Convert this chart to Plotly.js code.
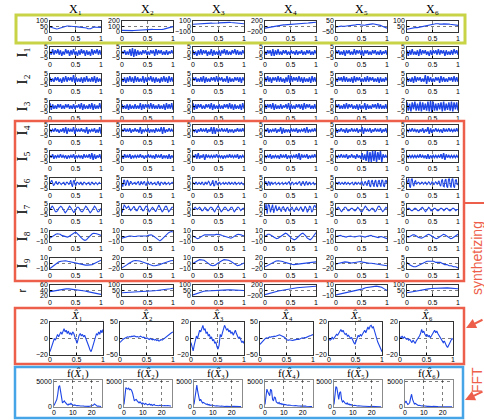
<!DOCTYPE html>
<html><head><meta charset="utf-8">
<script src="https://cdn.plot.ly/plotly-3.0.1.min.js"></script>
<style>html,body{margin:0;padding:0;background:#fff}#chart{width:484px;height:420px}</style>
</head><body><div id="chart"></div>
<script>
// ---------------- labels ----------------
const colTitles = ['X₁','X₂','X₃','X₄','X₅','X₆'];
const rowLabels = ['I₁','I₂','I₃','I₄','I₅','I₆','I₇','I₈','I₉','r'];
const xhatTitles = ['<i>X̂</i>₁','<i>X̂</i>₂','<i>X̂</i>₃','<i>X̂</i>₄','<i>X̂</i>₅','<i>X̂</i>₆'];
const fftTitles = ['f(<i>X̂</i>₁)','f(<i>X̂</i>₂)','f(<i>X̂</i>₃)','f(<i>X̂</i>₄)','f(<i>X̂</i>₅)','f(<i>X̂</i>₆)'];
const tTicks = [0, 0.5, 1];
const tTickText = ['0', '0.5', '1'];
const fTicks = [0, 10, 20];
const fYTicks = [0, 5000];
const fStep = 0.5;

// ---------------- data: top row X ----------------
const rowX = [
 [45,40,35,32,28,27,30,34,38,42,46,50,53,55,54,52,50,52,51,50,48,47,46,45,44,45,42,40,36,30,27,30,36,42,45,44,42,41,40,42],
 [30,28,25,22,20,20,21,22,25,28,30,33,35,38,40,41,42,40,42,45,48,50,50,48,45,44,42,40,40,42,45,48,52,58,62,68,75,82,90,98],
 [40,42,45,48,50,52,55,58,60,60,58,57,58,60,62,60,58,62,60,64,66,68,70,72,75,78,80,78,75,72,70,70,68,65,62,60,58,55,52,50],
 [-60,-50,-40,-30,-20,-10,0,10,20,30,40,45,50,55,58,60,62,65,70,72,75,78,80,85,88,92,95,100,105,110,115,118,120,125,130,135,140,145,150,155],
 [-5,-2,0,2,3,2,0,2,4,5,5,6,8,10,12,15,18,20,18,15,12,10,12,15,18,20,22,25,24,22,20,22,18,15,10,5,0,-5,-10,-15],
 [25,28,30,32,35,38,40,42,40,42,45,48,50,52,55,58,60,62,65,68,70,72,75,78,75,72,70,72,74,75,76,74,72,70,68,66,65,63,62,60]
];
const ticksX = [[0,50,100],[0,100,200],[-100,0,100],[-200,0,200],[-50,0,50],[0,50,100]];

// ---------------- I1..I5 (noise-like) ----------------
const rowI1 = [
 [1,-2,3,-2,2,-1,3,-2,2,-3,1,-2,3,-1,2,-3,2,-2,3,-2,1,-3,2,-2,3,-1,2,-3,2,-2,1,-3,3,-2,2,-1,3,-2,2,-2],
 [1,-1,2,-2,1,-2,3,-3,4,-4,3,-3,2,-2,1,-2,2,-1,2,-2,1,-2,2,-1,2,-3,3,-2,2,-1,2,-2,1,-2,2,-2,1,-1,2,-1],
 [2,-2,1,-3,2,-2,3,-2,2,-1,2,-3,1,-2,3,-3,2,-2,1,-2,2,-3,2,-1,3,-2,2,-2,1,-2,2,-1,3,-2,2,-2,1,-2,2,-1],
 [1,-2,2,-1,2,-3,3,-3,2,-2,3,-2,1,-2,2,-1,2,-2,1,-2,2,-1,1,-2,2,-2,1,-1,2,-2,1,-2,2,-1,2,-2,1,-2,2,-1],
 [2,-1,2,-2,1,-2,2,-3,2,-1,2,-2,1,-2,3,-2,2,-1,2,-2,2,-3,2,-1,2,-2,1,-2,2,-1,2,-2,1,-2,2,-2,1,-1,2,-2],
 [2,-3,2,-2,3,-2,1,-2,2,-3,3,-2,2,-1,2,-2,1,-3,2,-2,2,-1,2,-2,3,-2,2,-1,2,-3,2,-2,1,-2,2,-2,3,-1,2,-2]
];
const rowI2 = [
 [2,-2,1,-2,2,-1,2,-2,1,-3,2,-2,3,-2,2,-1,2,-2,4,-3,2,-2,1,-2,2,-3,2,-2,3,-2,1,-2,2,-2,3,-3,2,-2,1,-2],
 [1,-2,2,-3,2,-2,3,-2,2,-3,3,-2,2,-2,1,-2,3,-3,2,-2,2,-1,3,-2,2,-3,2,-2,1,-3,2,-2,3,-2,2,-3,3,-2,2,-2],
 [2,-1,2,-2,1,-2,2,-2,3,-3,2,-2,1,-2,2,-1,2,-2,3,-2,2,-1,2,-2,1,-2,3,-3,2,-2,1,-2,2,-1,2,-2,2,-3,2,-1],
 [2,-2,3,-2,2,-3,2,-1,2,-2,3,-2,2,-2,1,-3,2,-2,4,-3,3,-2,2,-1,2,-2,3,-2,2,-3,2,-2,1,-2,2,-3,3,-2,2,-2],
 [1,-2,2,-1,2,-2,3,-2,2,-2,1,-2,2,-3,3,-2,2,-1,2,-2,1,-2,2,-2,3,-2,2,-1,2,-2,1,-2,2,-3,2,-2,1,-2,2,-1],
 [2,-2,1,-2,2,-3,3,-2,2,-1,2,-2,1,-2,4,-4,3,-2,2,-2,1,-2,2,-1,2,-3,3,-2,2,-2,1,-2,2,-1,2,-2,3,-2,2,-2]
];
const rowI3 = [
 [3,-3,2,-2,1,-2,2,-1,2,-2,1,-2,2,-1,2,-2,1,-2,2,-2,1,-1,2,-2,3,-3,2,-2,1,-2,2,-2,3,-3,2,-2,1,-2,3,-2],
 [2,-2,1,-2,2,-3,2,-2,1,-2,2,-2,1,-2,3,-3,2,-2,2,-1,2,-2,3,-2,2,-2,1,-2,2,-2,1,-2,2,-3,3,-2,2,-2,3,-3],
 [3,-3,2,-2,2,-1,2,-2,1,-2,2,-1,2,-2,3,-3,2,-2,1,-2,2,-2,1,-2,2,-1,2,-2,3,-2,2,-3,2,-2,1,-2,2,-3,3,-2],
 [2,-2,2,-1,2,-2,3,-3,2,-2,1,-2,2,-2,1,-1,2,-2,3,-3,2,-2,1,-2,2,-1,2,-2,2,-3,3,-2,2,-1,2,-2,1,-2,2,-2],
 [2,-1,2,-2,1,-2,2,-2,3,-2,2,-1,2,-2,1,-2,2,-3,2,-2,1,-2,3,-3,2,-2,1,-2,2,-1,2,-2,3,-2,2,-2,1,-2,2,-2],
 [1.5,-1.5,1,-1.8,1.5,-1,1.8,-1.5,1,-1.5,1.8,-1.8,1.5,-1.2,1,-1.5,1.8,-1.8,2,-2,1.8,-1.5,1,-1.5,1.2,-1,1.5,-1.8,1.8,-1.5,1,-1.2,1.5,-1.5,1.8,-1.8,1.5,-1,1.5,-1.5]
];
const rowI4 = [
 [1,-1,1,-1,2,-1,1,-2,1,-1,2,-2,3,-3,2,-1,1,-1,3,-3,2,-1,1,-1,2,-1,1,-2,3,-3,1,-1,1,-1,2,-2,1,-2,3,-3],
 [1,-1,2,-1,1,-1,2,-2,1,-1,2,-1,1,-2,3,-3,1,-1,1,-1,2,-2,1,-1,1,-2,2,-1,1,-1,3,-3,3,-2,1,-1,2,-1,1,-1],
 [1,-1,1,-2,1,-1,2,-1,1,-1,2,-2,1,-1,3,-3,3,-3,2,-1,1,-1,2,-1,1,-1,2,-2,1,-1,1,-2,1,-1,2,-1,1,-1,2,-1],
 [1,-1,2,-2,1,-1,1,-1,2,-2,1,-1,3,-3,2,-2,1,-1,1,-2,2,-1,1,-1,2,-2,1,-1,1,-1,2,-2,3,-2,1,-1,1,-1,2,-1],
 [2,-2,1,-1,2,-1,1,-2,2,-2,1,-1,2,-1,1,-1,2,-2,1,-1,3,-3,2,-1,1,-1,2,-2,1,-1,2,-1,1,-1,2,-2,1,-1,2,-2],
 [1,-1,1,-1,2,-1,1,-1,1,-2,1,-1,2,-2,1,-1,3,-3,2,-2,1,-1,2,-1,1,-1,1,-2,2,-1,1,-1,2,-1,1,-1,1,-1,2,-1]
];
const rowI5 = [
 [1,-1,2,-2,1,-1,1,-1,2,-1,1,-1,1,-2,1,-1,1,-1,2,-2,1,-1,1,-1,1,-2,2,-1,1,-1,2,-2,3,-3,2,-2,1,-1,2,-2],
 [1,-2,2,-1,1,-1,2,-2,1,-1,1,-1,1,-1,2,-1,1,-2,1,-1,2,-1,1,-1,1,-2,2,-1,1,-1,2,-2,1,-1,1,-2,2,-2,1,-1],
 [1,-1,2,-2,3,-2,1,-1,2,-3,2,-1,1,-1,1,-1,1,-1,2,-1,1,-1,1,-2,1,-1,1,-1,2,-1,1,-1,1,-1,2,-2,1,-1,1,-1],
 [1,-1,1,-1,2,-2,1,-1,1,-1,1,-2,2,-1,1,-1,2,-2,1,-1,1,-1,1,-1,2,-2,3,-3,2,-1,1,-1,2,-2,1,-1,1,-1,2,-1],
 [1,-1,1,-1,2,-1,1,-1,2,-2,1,-1,2,-1,1,-2,2,-1,1,-2,3,-3,2,-4,5,-5,4,-5,5,-4,5,-5,4,-3,5,-5,2,-1,1,-1],
 [1,-1,1,-1,1,-1,1,-1,1,-1,2,-1,1,-1,1,-2,2,-2,1,-1,1,-1,1,-1,1,-1,2,-2,3,-3,2,-1,1,-1,1,-1,1,-1,1,-1]
];
// ---------------- I6..I9 (oscillating) ----------------
const rowI6 = [
 [0,2,3,1,-2,-1,1,2,0,-1,1,1,0,-1,0,1,1,-1,-1,1,1,0,-1,1,3,-1,-3,2,3,-1,-2,1,1,0,-1,1,1,-1,-1,1,1,0,-1,0,1,1,-1,-1,1,1,0,-1,0,1,0,-1,0,1,0,0],
 [0,-3,3,3,-2,-1,3,2,-2,0,2,1,-1,0,1,1,-1,0,1,2,-1,-1,2,1,-1,1,2,-1,-2,1,2,0,-1,1,1,-1,0,1,1,-1,-1,1,2,-1,-2,1,1,0,-1,1,1,-1,0,1,1,-1,0,1,1,0],
 [1,0,-1,1,1,-1,0,1,0,-1,1,1,-1,-1,1,1,-1,0,2,1,-2,-1,2,3,-2,-2,2,2,-1,-1,1,1,-1,0,1,1,-1,0,1,0,-1,1,1,-1,0,1,0,-1,1,1,-1,0,1,1,-1,0,1,0,-1,0],
 [0,2,-1,-2,2,1,-2,1,1,-1,0,1,1,-1,0,1,1,-1,0,1,1,-1,0,1,1,-1,0,1,2,-1,-1,1,1,-1,0,1,1,-1,0,1,2,-1,-2,1,2,0,-2,1,2,-1,-1,1,1,-1,0,1,1,-1,0,0],
 [0,1,-1,1,1,-1,0,1,0,-1,1,1,-1,0,1,0,-1,0,1,1,-1,-1,1,1,-1,0,1,0,-1,1,2,-1,-2,1,2,-1,-2,2,3,-2,-3,2,3,-1,-3,2,3,-2,-3,2,3,-1,-3,3,3,-2,-3,2,3,0],
 [0,1.5,1.8,-1,-1.5,1.5,1.8,-0.5,-1,0.8,1,-0.3,0,0.5,0.3,-0.3,0,0.5,0.4,-0.3,0.1,0.5,0.2,-0.4,0,0.6,0.3,-0.5,0,0.6,0.4,-0.5,0,0.6,0.3,-0.4,0.5,1,-0.5,-1,1,1.5,-1,-1.2,1.2,1.6,-1,-1.5,1.5,1.8,-0.8,-1.5,1.5,1.8,-1,-1.5,1.2,1.5,-0.5,0]
];
const rowI7 = [
 [0,2,3,2,0,-2,-2,-1,1,2,3,2,0,-2,-3,-2,0,2,3,2,0,-2,-3,-1,1,2,2,1,-1,-2,-2,0,2,3,2,0,-2,-3,-2,0,2,3,2,0,-2,-2,0,1],
 [-3,2,4,3,1,2,3,1,-1,0,2,3,1,-1,-1,1,3,3,1,-1,-1,1,3,3,0,-2,-1,1,2,1,-1,-2,0,3,4,2,-1,-2,-1,1,3,3,0,-2,-1,1,2,2],
 [0,1,2,1,0,1,2,1,-1,-1,1,2,1,-1,-1,1,2,2,1,-1,-2,0,2,3,2,-1,-2,-1,1,2,2,0,-1,-1,1,2,2,0,-2,-1,1,2,2,0,-1,0,1,1],
 [0,2,-1.5,1.8,1.5,-1,0.5,1.8,-1.2,0.5,1.5,-0.5,0,1,0.3,-0.8,0.8,1,0,-0.8,0.5,0.8,-0.3,-0.6,0.6,0.8,-0.2,-0.8,0.3,0.8,0.2,-0.5,0.3,1,0.2,-0.8,0,1.2,0.5,-1,-0.3,1.2,1,-1,-0.5,1.2,1.5,0.5],
 [0,1,2,1,-1,-2,-1,1,2,2,0,-1,-1,0,1,1,0,-1,-1,1,2,1,-1,-2,-2,0,2,3,2,0,-1,-1,0,1,1,-1,-2,-1,1,3,3,1,-1,-2,-1,1,2,1],
 [0,1,1,0,-1,-1,0,1,1,0,-1,-1,0,1,2,1,-1,-2,-1,1,2,1,-1,-1,0,1,1,0,-1,-1,0,1,1,0,-1,0,1,1,0,-1,-1,0,1,1,0,-1,0,0]
];
const rowI8 = [
 [-3,-1,1,3,4,5,5,4,2,1,0,-1,-1,0,2,4,6,7,7,5,2,-1,-4,-6,-7,-6,-3,0,3,5,6,6,5,4,3,2],
 [-3,-2,-1,0,1,1,1,0,0,0,1,1,1,1,0,0,1,1,2,3,3,2,0,-2,-5,-7,-8,-6,-3,0,3,5,7,8,9,8],
 [1,-1,-3,-4,-3,-1,1,2,3,3,3,2,2,2,3,3,4,4,4,3,2,1,0,-1,-2,-3,-3,-2,0,2,3,4,4,3,2,1],
 [0,2,4,4,3,1,-1,-3,-4,-3,-1,1,3,5,6,5,3,0,-3,-5,-6,-5,-2,1,3,5,6,4,1,-3,-5,-6,-4,0,4,7],
 [0,1,2,2,1,0,-1,-1,0,1,1,0,-1,-1,0,1,1,1,0,-1,-1,0,1,2,2,1,0,-1,-2,-2,-1,0,-1,-2,-3,-4],
 [0,-1,0,2,3,3,2,0,-2,-3,-3,-2,0,2,3,4,3,1,-1,-3,-4,-3,-1,1,3,4,3,1,-1,-3,-4,-3,-1,1,3,4]
];
const rowI9 = [
 [-9,-6,-2,1,3,4,5,5,4,3,3,2,1,0,-1,-2,-3,-3,-3,-2,0,2,4,6],
 [-16,-12,-6,0,5,9,11,11,9,6,3,0,-3,-6,-8,-8,-7,-4,-1,2,5,8,10,11],
 [0,3,5,7,7,6,3,0,-3,-4,-3,0,3,5,7,7,6,4,1,-2,-4,-3,-1,1],
 [-12,-8,-3,2,6,9,10,9,7,4,1,-1,-3,-4,-3,-2,0,2,3,4,5,5,6,6],
 [-2,0,3,5,6,5,3,2,3,5,7,7,5,3,2,1,1,0,-1,-2,-3,-4,-6,-8],
 [1,-1,-2,-3,-3,-2,-1,0,1,2,2,2,2,1,1,1,0,-1,-1,-2,-2,-3,-3,-4]
];
const rowR = [
 [36,38,40,42,44,45,46,46,45,44,42,41,40,38,36,34,32,30,28,26],
 [30,31,32,33,34,35,36,38,40,42,44,46,48,50,52,55,58,62,66,70],
 [10,20,30,38,43,46,48,50,52,53,54,55,56,56,56,55,54,53,52,50],
 [-150,-120,-90,-60,-40,-20,0,20,40,60,75,90,100,110,120,130,140,145,150,155],
 [-8,-7,-6,-5,-4,-3,-2,-1,0,1,3,5,6,7,8,8,7,6,3,0],
 [30,35,40,45,50,55,58,62,65,68,70,72,74,75,75,74,72,70,68,66]
];
const t5 = [-5,0,5], t2 = [-2,0,2], t10 = [-10,0,10], t20 = [-20,0,20];
const ticksI1 = [t5,t5,t5,t5,t5,t5];
const ticksI2 = [t5,t5,t5,t5,t5,t5];
const ticksI3 = [t5,t5,t5,t5,t5,t2];
const ticksI4 = [t5,t5,t5,t5,t5,t5];
const ticksI5 = [t5,t5,t5,t5,t5,t5];
const ticksI6 = [t5,t5,t5,t5,t5,t2];
const ticksI7 = [t5,t5,t5,t2,t5,t5];
const ticksI8 = [t10,t10,t10,t10,t10,t10];
const ticksI9 = [t10,t20,t10,t20,t20,t5];
const ticksR = [[20,40,60],[0,50,100],[0,50,100],[-200,0,200],t10,[0,50,100]];

// ---------------- X-hat ----------------
const rowXhat = [
 [-16,-12,-8,-5,0,-2,3,5,2,6,8,5,9,12,8,10,6,9,5,7,4,8,6,3,-2,-6,0,4,6,3,5,2,4,1,-2,-6,-10,-14,-16,-12,-8,-3,2,6,4,8,5,10,7,11],
 [-12,-8,-5,-2,0,2,3,5,4,6,5,7,6,8,7,5,6,4,5,7,5,3,4,2,0,2,-1,-3,0,-2,-4,-2,-5,-3,-6,-4,-8,-6,-3,-5,-2,0,2,5,8,10,13,16,18,20],
 [-5,-12,-15,-8,0,3,0,5,10,8,14,16,10,12,6,8,3,5,0,2,-3,-1,-6,-4,-10,-13,-8,5,2,8,12,16,13,10,12,8,10,6,8,4,7,10,6,3,0,2,-2,-5,-3,-6],
 [-18,-14,-10,-6,-2,0,2,1,3,5,4,6,5,7,6,8,9,10,11,9,8,7,5,3,-2,-5,-6,-4,-5,-7,-6,-5,-4,-5,-3,-2,-3,-1,0,2,1,3,2,4,5,6,8,9,10,12],
 [0,-2,-1,2,-1,1,3,5,4,7,9,11,8,10,7,5,6,3,4,2,0,1,-3,-5,-7,-4,0,4,2,5,3,6,8,10,7,12,14,11,15,16,13,14,9,5,0,-4,-7,-10,-13,-16],
 [2,1,3,0,2,1,-1,0,-2,-1,-3,-5,-2,-4,-6,-3,-1,0,3,6,11,7,9,5,3,5,2,4,1,3,5,8,10,7,9,6,4,2,0,-2,-5,-3,-7,-9,-11,-8,-6,-3,0,-1]
];
const ticksXhat = [t20,[-50,0,50],t20,[-50,0,50],t20,t20];

// ---------------- FFT magnitudes ----------------
const rowFFT = [
 [300,800,1000,1500,2500,4000,4200,3000,1500,800,1000,1200,900,600,500,400,600,500,700,500,400,300,400,300,250,300,200,250,200,250,150,200,180,150,200,150,150,120,150,200,250,300,400,600,400,250,150,180,150,120,100],
 [500,3000,3800,3600,3500,3700,3400,3500,3300,2800,1500,1200,1400,1500,1200,900,800,1000,700,600,800,600,500,700,500,400,500,600,400,500,300,400,500,350,300,400,300,250,350,300,400,300,250,300,200,250,300,200,250,200,200],
 [500,2000,3500,4300,3000,1500,1200,1500,1000,800,900,700,600,500,600,400,500,300,400,350,300,250,300,200,250,200,300,200,150,200,150,200,150,100,150,120,150,100,120,150,100,120,100,150,100,120,100,80,100,80,100],
 [500,2500,3500,3000,2500,2200,3500,3200,1500,1200,2000,1800,1000,800,700,900,600,700,500,600,400,500,400,450,350,400,300,350,300,250,300,250,300,200,250,200,250,200,180,200,150,200,150,180,150,120,150,100,120,100,100],
 [500,2500,4000,3800,2000,1500,2800,3000,1500,1000,1200,900,700,600,800,500,600,400,500,350,400,300,350,250,300,200,250,200,200,150,200,150,150,120,150,100,120,100,100,120,100,80,100,80,100,80,80,60,80,60,60],
 [800,1200,800,500,600,900,1800,2500,1500,900,600,700,500,400,300,350,250,300,200,250,200,150,200,150,120,150,100,120,100,100,120,80,100,80,100,80,60,80,60,80,60,50,60,50,60,50,40,50,40,50,40]
];

// ---------------- drawing ----------------
const W = 484, H = 420;
const BLUE = 'rgb(30,70,230)';
const traces = [];
const layout = {
  width: W, height: H, margin: {l:0, r:0, t:0, b:0},
  showlegend: false, paper_bgcolor: 'white', plot_bgcolor: 'white',
  shapes: [], annotations: []
};
const tickFont = {family: 'Liberation Sans, Arial, sans-serif', size: 7, color: 'black'};
let k = 0;
function addPlot(ys, xs, box, xr, yr, xt, xtt, yt, frameColor, lw, xStand) {
  k++;
  const sx = k === 1 ? '' : String(k);
  const [x0, x1, y0, y1] = box;
  traces.push({x: xs, y: ys, xaxis: 'x' + sx, yaxis: 'y' + sx, type: 'scatter', mode: 'lines',
    line: {color: BLUE, width: lw}, hoverinfo: 'skip', cliponaxis: true});
  const common = {showline: true, mirror: true, linecolor: frameColor, linewidth: 0.8,
    ticks: 'inside', ticklen: 2, tickcolor: frameColor, showgrid: true,
    gridcolor: 'rgba(0,0,0,0.85)', griddash: 'dot', gridwidth: 0.6, zeroline: false,
    tickfont: tickFont, fixedrange: true, automargin: false};
  layout['xaxis' + sx] = Object.assign({}, common, {domain: [x0 / W, x1 / W], range: xr,
    anchor: 'y' + sx, tickmode: 'array', tickvals: xt, ticktext: xtt, ticklabelstandoff: xStand || 0});
  layout['yaxis' + sx] = Object.assign({}, common, {domain: [1 - y1 / H, 1 - y0 / H], range: yr,
    anchor: 'x' + sx, tickmode: 'array', tickvals: yt, ticktext: yt.map(v => v < 0 ? '−' + (-v) : String(v))});
}
function tGrid(n) { const a = []; for (let i = 0; i < n; i++) a.push(i / (n - 1)); return a; }

const gridRows = [rowX, rowI1, rowI2, rowI3, rowI4, rowI5, rowI6, rowI7, rowI8, rowI9, rowR];
const gridTicks = [ticksX, ticksI1, ticksI2, ticksI3, ticksI4, ticksI5, ticksI6, ticksI7, ticksI8, ticksI9, ticksR];
const colLeft = [50, 122, 193, 265, 336, 407], colW = 51;
const rowTop = [21, 47, 74, 101, 125, 151, 178, 204, 231, 258, 285], rowH = 11;

gridRows.forEach((row, r) => {
  row.forEach((ys, c) => {
    const tk = gridTicks[r][c];
    const noisy = (r >= 1 && r <= 5);
    addPlot(ys, tGrid(ys.length), [colLeft[c], colLeft[c] + colW, rowTop[r], rowTop[r] + rowH],
      [0, 1], [tk[0], tk[tk.length - 1]], tTicks, tTickText, tk, 'black', noisy ? 1.4 : 1.1, 0);
  });
});

const xhLeft = [50, 120, 191, 260, 329, 400], xhW = 53;
rowXhat.forEach((ys, c) => {
  const tk = ticksXhat[c];
  addPlot(ys, tGrid(ys.length), [xhLeft[c], xhLeft[c] + xhW, 322, 355],
    [0, 1], [tk[0], tk[2]], tTicks, tTickText, tk, 'black', 1.1, -2);
});

const fLeft = [54, 124, 194, 265, 334, 405], fW = 48;
rowFFT.forEach((ys, c) => {
  const xs = ys.map((_, i) => i * fStep);
  addPlot(ys, xs, [fLeft[c], fLeft[c] + fW, 380, 407],
    [0, 25.5], [0, 5300], fTicks, fTicks.map(String), fYTicks, 'rgb(110,110,110)', 1.1, -1);
});

// ---------------- titles & labels ----------------
function ann(text, px, py, size, family, color, angle) {
  layout.annotations.push({text: text, x: px / W, y: 1 - py / H, xref: 'paper', yref: 'paper',
    showarrow: false, xanchor: 'center', yanchor: 'middle', textangle: angle || 0,
    font: {family: family, size: size, color: color || 'black'}});
}
const SERIF = 'Liberation Serif, DejaVu Serif, Times New Roman, serif';
const SANS = 'Liberation Sans, Arial, sans-serif';
colTitles.forEach((t, c) => ann(t, colLeft[c] + colW / 2, 9, 12, SERIF));
rowLabels.forEach((t, r) => ann(t, 21, rowTop[r + 1] + rowH / 2, r === 9 ? 11 : 15, r === 9 ? SANS : SERIF, 'black', -90));
xhatTitles.forEach((t, c) => ann(t, xhLeft[c] + xhW / 2, 315, 11, SERIF));
fftTitles.forEach((t, c) => ann(t, fLeft[c] + fW / 2, 373, 11, SERIF));

const RED = 'rgb(238,95,75)';
ann('synthetizing', 477, 258, 14, SANS, RED, -90);
ann('FFT', 477, 380, 14, SANS, RED, -90);

// ---------------- boxes, bracket and arrows ----------------
function rect(x0, y0, x1, y1, color, w) {
  layout.shapes.push({type: 'rect', xref: 'paper', yref: 'paper', x0: x0 / W, x1: x1 / W,
    y0: 1 - y1 / H, y1: 1 - y0 / H, line: {color: color, width: w}, fillcolor: 'rgba(0,0,0,0)'});
}
function seg(x0, y0, x1, y1, color, w) {
  layout.shapes.push({type: 'line', xref: 'paper', yref: 'paper', x0: x0 / W, x1: x1 / W,
    y0: 1 - y0 / H, y1: 1 - y1 / H, line: {color: color, width: w}});
}
rect(16, 15, 465, 43, 'rgb(200,212,70)', 3);
rect(15, 121, 464, 281, RED, 2.5);
rect(15, 308, 464, 364, RED, 2.5);
rect(15, 367, 463, 418, 'rgb(70,165,230)', 2.5);
seg(464, 203, 484, 203, RED, 2);
function arrow(hx, hy, tx, ty) {
  layout.annotations.push({x: hx / W, y: 1 - hy / H, xref: 'paper', yref: 'paper', text: '',
    showarrow: true, arrowhead: 2, arrowsize: 1, arrowwidth: 2, arrowcolor: RED,
    axref: 'pixel', ayref: 'pixel', ax: tx - hx, ay: ty - hy});
}
arrow(466, 328, 484, 319);
arrow(465, 400, 484, 391);

Plotly.newPlot('chart', traces, layout, {staticPlot: true, displayModeBar: false});
</script></body></html>
